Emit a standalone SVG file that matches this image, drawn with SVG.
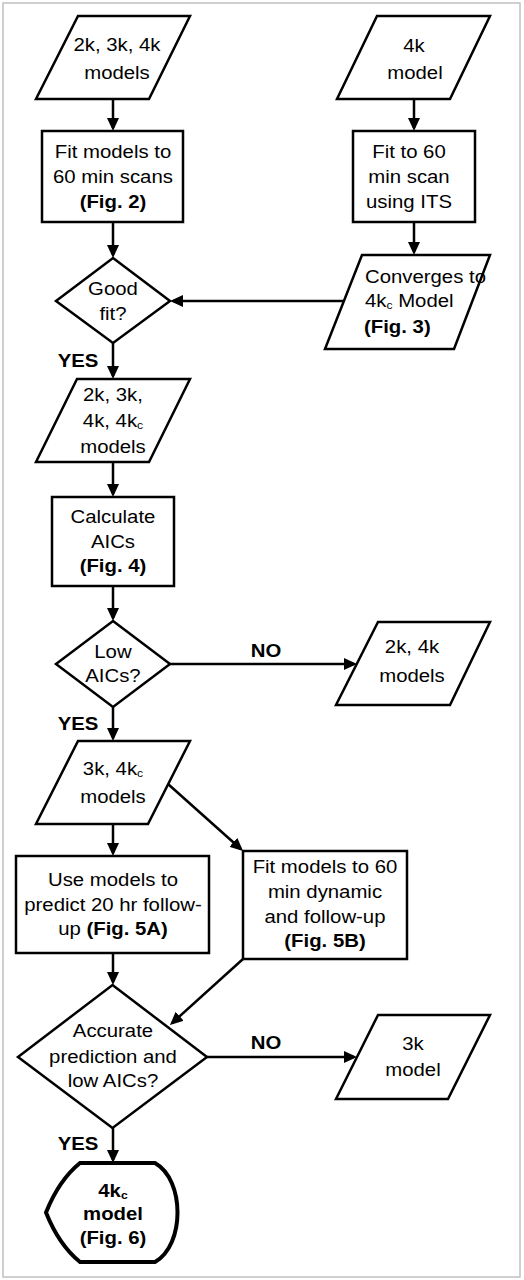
<svg xmlns="http://www.w3.org/2000/svg" width="524" height="1280" viewBox="0 0 524 1280">
<style>
text { font-family: "Liberation Sans", Arial, sans-serif; font-size: 18.5px; fill: #000; text-anchor: middle; transform-box: fill-box; transform-origin: center; transform: scaleX(1.1); }
.b { font-weight: bold; }
.l { text-anchor: start; transform-origin: 0 50%; }
.sub { font-size: 11px; }
.shape { fill: #fff; stroke: #000; stroke-width: 2.5; stroke-linejoin: miter; }
.term { fill: #fff; stroke: #000; stroke-width: 4; stroke-linejoin: miter; }
.conn line { stroke: #000; stroke-width: 2.5; fill: none; marker-end: url(#arr); }
</style>
<defs>
<marker id="arr" markerUnits="userSpaceOnUse" viewBox="0 0 13 12" markerWidth="13" markerHeight="12" refX="10" refY="6" orient="auto">
<path d="M0,0 L13,6 L0,12 Z" fill="#000"/>
</marker>
</defs>
<rect x="3" y="3" width="517" height="1274" fill="#fff" stroke="#c0c0c0" stroke-width="1.5"/>

<g class="conn">
<line x1="113" y1="99" x2="113" y2="128"/>
<line x1="113" y1="222" x2="113" y2="255"/>
<line x1="414" y1="99" x2="414" y2="128"/>
<line x1="414" y1="222" x2="414" y2="252"/>
<line x1="343" y1="301" x2="173" y2="301"/>
<line x1="113" y1="343" x2="113" y2="376"/>
<line x1="113" y1="462" x2="113" y2="494"/>
<line x1="113" y1="586" x2="113" y2="618"/>
<line x1="170" y1="664" x2="354" y2="664"/>
<line x1="113" y1="707" x2="113" y2="738"/>
<line x1="113" y1="824" x2="113" y2="853"/>
<line x1="168" y1="784" x2="240.8" y2="849"/>
<line x1="113" y1="953" x2="113" y2="982"/>
<line x1="243" y1="959" x2="172.2" y2="1023"/>
<line x1="207" y1="1057" x2="354" y2="1057"/>
<line x1="113" y1="1128" x2="113" y2="1160"/>
</g>

<g id="in-2k3k4k">
<polygon class="shape" points="78,16 190,16 149,99 36,99"/>
<text x="117" y="51">2k, 3k, 4k</text>
<text x="117" y="79">models</text>
</g>

<g id="fit-60">
<rect class="shape" x="42" y="131" width="141" height="91"/>
<text x="113" y="158">Fit models to</text>
<text x="113" y="183">60 min scans</text>
<text class="b" x="113" y="208">(Fig. 2)</text>
</g>

<g id="in-4k">
<polygon class="shape" points="377,16 490,16 450,99 337,99"/>
<text x="414" y="52">4k</text>
<text x="415" y="79">model</text>
</g>

<g id="fit-its">
<rect class="shape" x="353" y="131" width="122" height="91"/>
<text x="409" y="158">Fit to 60</text>
<text x="409" y="183">min scan</text>
<text x="409" y="208">using ITS</text>
</g>

<g id="converges">
<polygon class="shape" points="362,255 490,255 454,349 325,349"/>
<text class="l" x="365" y="283">Converges to</text>
<text class="l" x="365" y="307">4k<tspan class="sub" dy="2">c</tspan><tspan dy="-2"> Model</tspan></text>
<text class="l b" x="364" y="333">(Fig. 3)</text>
</g>

<g id="good-fit">
<polygon class="shape" points="113,258 170,301 113,343 56,301"/>
<text x="113" y="295">Good</text>
<text x="113" y="320">fit?</text>
</g>

<g id="yes1"><text class="b" x="78" y="367">YES</text></g>

<g id="all-models">
<polygon class="shape" points="77,379 190,379 149,462 36,462"/>
<text x="113" y="401">2k, 3k,</text>
<text x="113" y="427">4k, 4k<tspan class="sub" dy="2">c</tspan></text>
<text x="113" y="453">models</text>
</g>

<g id="calc-aic">
<rect class="shape" x="52" y="497" width="122" height="89"/>
<text x="113" y="523">Calculate</text>
<text x="113" y="548">AICs</text>
<text class="b" x="113" y="572">(Fig. 4)</text>
</g>

<g id="low-aic">
<polygon class="shape" points="113,621 170,664 113,707 56,664"/>
<text x="113" y="658">Low</text>
<text x="113" y="682">AICs?</text>
</g>

<g id="no1"><text class="b" x="266" y="657">NO</text></g>

<g id="out-2k4k">
<polygon class="shape" points="378,622 490,622 450,705 336,705"/>
<text x="412" y="653">2k, 4k</text>
<text x="412" y="682">models</text>
</g>

<g id="yes2"><text class="b" x="78" y="730">YES</text></g>

<g id="in-3k4kc">
<polygon class="shape" points="78,741 190,741 148,824 36,824"/>
<text x="113" y="775">3k, 4k<tspan class="sub" dy="2">c</tspan></text>
<text x="113" y="803">models</text>
</g>

<g id="predict">
<rect class="shape" x="16" y="856" width="193" height="97"/>
<text x="113" y="886">Use models to</text>
<text x="113" y="911">predict 20 hr follow-</text>
<text x="113" y="935">up <tspan class="b">(Fig. 5A)</tspan></text>
</g>

<g id="fit-dyn">
<rect class="shape" x="243" y="851" width="164" height="108"/>
<text x="325" y="873">Fit models to 60</text>
<text x="325" y="898">min dynamic</text>
<text x="325" y="923">and follow-up</text>
<text class="b" x="325" y="947">(Fig. 5B)</text>
</g>

<g id="accurate">
<polygon class="shape" points="112.5,985 207,1057 112.5,1128 18,1057"/>
<text x="113" y="1037">Accurate</text>
<text x="113" y="1063">prediction and</text>
<text x="113" y="1087">low AICs?</text>
</g>

<g id="no2"><text class="b" x="266" y="1049">NO</text></g>

<g id="out-3k">
<polygon class="shape" points="378,1015 490,1015 448,1099 336,1099"/>
<text x="413" y="1050">3k</text>
<text x="413" y="1076">model</text>
</g>

<g id="yes3"><text class="b" x="78" y="1150">YES</text></g>

<g id="final-4kc">
<path class="term" d="M80,1163 L155,1163 C185,1180 185,1245 155,1262 L80,1262 Q59,1245 46,1212.5 Q59,1180 80,1163 Z"/>
<text class="b" x="113" y="1197">4k<tspan class="sub" dy="2">c</tspan></text>
<text class="b" x="113" y="1220">model</text>
<text class="b" x="113" y="1244">(Fig. 6)</text>
</g>
</svg>
